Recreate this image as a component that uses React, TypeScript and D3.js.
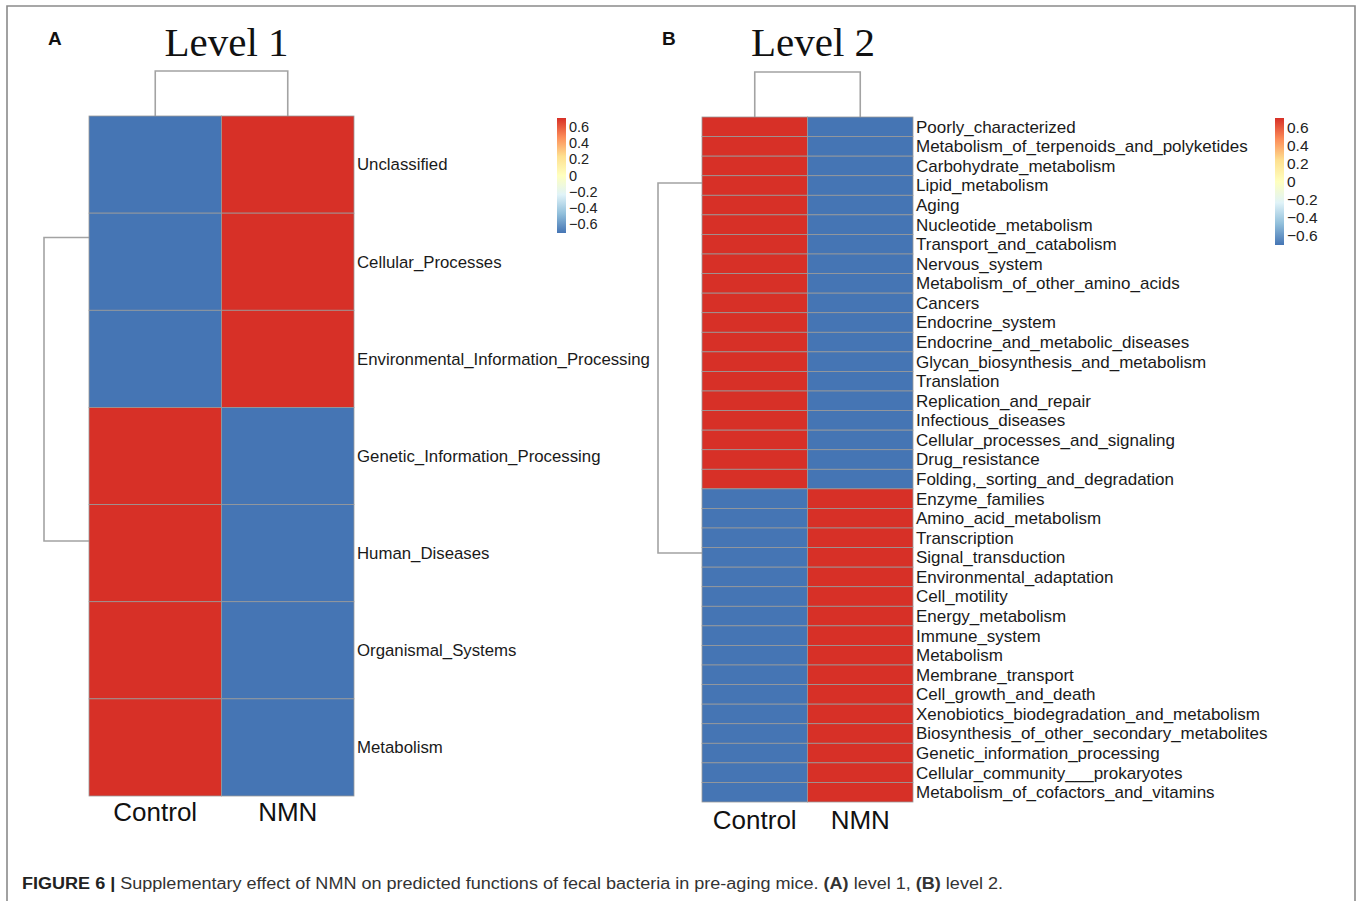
import React from 'react';
import * as d3 from 'd3';

// figure size
const W = 1358;
const H = 901;

// data: row-scaled abundance (z-score) per group
const groups = ['Control', 'NMN'];

const level1Rows = [
  'Unclassified',
  'Cellular_Processes',
  'Environmental_Information_Processing',
  'Genetic_Information_Processing',
  'Human_Diseases',
  'Organismal_Systems',
  'Metabolism',
];
const level1Control = [-0.707, -0.707, -0.707, 0.707, 0.707, 0.707, 0.707];
const level1NMN = [0.707, 0.707, 0.707, -0.707, -0.707, -0.707, -0.707];

const level2Rows = [
  'Poorly_characterized',
  'Metabolism_of_terpenoids_and_polyketides',
  'Carbohydrate_metabolism',
  'Lipid_metabolism',
  'Aging',
  'Nucleotide_metabolism',
  'Transport_and_catabolism',
  'Nervous_system',
  'Metabolism_of_other_amino_acids',
  'Cancers',
  'Endocrine_system',
  'Endocrine_and_metabolic_diseases',
  'Glycan_biosynthesis_and_metabolism',
  'Translation',
  'Replication_and_repair',
  'Infectious_diseases',
  'Cellular_processes_and_signaling',
  'Drug_resistance',
  'Folding,_sorting_and_degradation',
  'Enzyme_families',
  'Amino_acid_metabolism',
  'Transcription',
  'Signal_transduction',
  'Environmental_adaptation',
  'Cell_motility',
  'Energy_metabolism',
  'Immune_system',
  'Metabolism',
  'Membrane_transport',
  'Cell_growth_and_death',
  'Xenobiotics_biodegradation_and_metabolism',
  'Biosynthesis_of_other_secondary_metabolites',
  'Genetic_information_processing',
  'Cellular_community___prokaryotes',
  'Metabolism_of_cofactors_and_vitamins',
];
const level2Control = [
  0.707, 0.707, 0.707, 0.707, 0.707, 0.707, 0.707, 0.707, 0.707, 0.707,
  0.707, 0.707, 0.707, 0.707, 0.707, 0.707, 0.707, 0.707, 0.707,
  -0.707, -0.707, -0.707, -0.707, -0.707, -0.707, -0.707, -0.707,
  -0.707, -0.707, -0.707, -0.707, -0.707, -0.707, -0.707, -0.707,
];
const level2NMN = level2Control.map((v) => -v);

// row dendrogram: position of the two top clusters (row index units)
const level1RowClusters = [0.75, 3.875];
const level2RowClusters = [2.87, 21.78];

const legendTicks = [0.6, 0.4, 0.2, 0, -0.2, -0.4, -0.6];
const zLimit = 0.707;

// pheatmap default palette (rev RdYlBu 7)
const palette = ['#4575B4', '#91BFDB', '#E0F3F8', '#FFFFBF', '#FEE090', '#FC8D59', '#D73027'];
const color = d3
  .scaleLinear<string>()
  .domain(palette.map((_, i) => -zLimit + (2 * zLimit * i) / (palette.length - 1)))
  .range(palette)
  .interpolate(d3.interpolateRgb);

const sans = '"Liberation Sans", Arial, Helvetica, sans-serif';
const serif = '"Liberation Serif", "Times New Roman", serif';
const lineCol = '#a3a3a3';

function fmt(v: number) {
  if (v === 0) return '0';
  return (v < 0 ? '\u2212' : '') + Math.abs(v).toFixed(1);
}

type PanelProps = {
  id: string;
  letter: string;
  title: string;
  titleX: number;
  rows: string[];
  control: number[];
  nmn: number[];
  clusters: number[];
  box: { left: number; right: number; top: number; bottom: number };
  dendroX: number;
  colDendroTop: number;
  labelSize: number;
  groupBaseline: number;
  legend: { x: number; top: number; bottom: number; fontSize: number };
  letterX: number;
};

function Panel(p: PanelProps) {
  const { box } = p;
  const x = d3.scaleBand().domain(groups).range([box.left, box.right]);
  const y = d3.scaleBand().domain(p.rows).range([box.top, box.bottom]);
  const yIdx = d3.scaleLinear().domain([0, p.rows.length]).range([box.top, box.bottom]);
  const cols = [p.control, p.nmn];
  const legY = d3.scaleLinear().domain([-zLimit, zLimit]).range([p.legend.bottom, p.legend.top]);
  const gradId = `grad-${p.id}`;

  const c0 = yIdx(p.clusters[0] + 0.5);
  const c1 = yIdx(p.clusters[1] + 0.5);
  const gx0 = x(groups[0])! + x.bandwidth() / 2;
  const gx1 = x(groups[1])! + x.bandwidth() / 2;

  return (
    <g>
      <text x={p.letterX} y={45} fontFamily={sans} fontWeight="bold" fontSize={19} fill="#111">
        {p.letter}
      </text>
      <text x={p.titleX} y={56} fontFamily={serif} fontSize={41} textAnchor="middle" fill="#111">
        {p.title}
      </text>

      {/* column dendrogram */}
      <path
        d={`M${gx0},${box.top}V${p.colDendroTop}H${gx1}V${box.top}`}
        fill="none"
        stroke={lineCol}
        strokeWidth={1.6}
      />
      {/* row dendrogram */}
      <path
        d={`M${box.left},${c0}H${p.dendroX}V${c1}H${box.left}`}
        fill="none"
        stroke={lineCol}
        strokeWidth={1.6}
      />

      {/* cells */}
      {p.rows.map((r, i) =>
        groups.map((g, j) => (
          <rect
            key={r + g}
            x={x(g)}
            y={y(r)}
            width={x.bandwidth()}
            height={y.bandwidth()}
            fill={color(cols[j][i])}
            stroke="#999999"
            strokeWidth={0.8}
          />
        ))
      )}

      {/* row labels */}
      {p.rows.map((r) => (
        <text
          key={r}
          x={box.right + 3}
          y={y(r)! + y.bandwidth() / 2}
          dy="0.35em"
          fontFamily={sans}
          fontSize={p.labelSize}
          fill="#1a1a1a"
        >
          {r}
        </text>
      ))}

      {/* column labels */}
      {groups.map((g) => (
        <text
          key={g}
          x={x(g)! + x.bandwidth() / 2}
          y={p.groupBaseline}
          textAnchor="middle"
          fontFamily={sans}
          fontSize={26}
          fill="#111"
        >
          {g}
        </text>
      ))}

      {/* colour legend */}
      <defs>
        <linearGradient id={gradId} x1="0" y1="1" x2="0" y2="0">
          {palette.map((c, i) => (
            <stop key={i} offset={i / (palette.length - 1)} stopColor={c} />
          ))}
        </linearGradient>
      </defs>
      <rect
        x={p.legend.x}
        y={p.legend.top}
        width={9}
        height={p.legend.bottom - p.legend.top}
        fill={`url(#${gradId})`}
      />
      {legendTicks.map((t) => (
        <text
          key={t}
          x={p.legend.x + 12}
          y={legY(t)}
          dy="0.35em"
          fontFamily={sans}
          fontSize={p.legend.fontSize}
          fill="#222"
        >
          {fmt(t)}
        </text>
      ))}
    </g>
  );
}

export default function App() {
  return (
    <svg
      width={W}
      height={H}
      style={{ position: 'absolute', left: 0, top: 0, display: 'block', background: '#fff' }}
    >
      <rect x={0} y={0} width={W} height={H} fill="#fff" />
      <path d={`M7,${H + 5}V6H1355V${H + 5}`} fill="none" stroke="#8a8a8a" strokeWidth={1.6} />

      <Panel
        id="a"
        letter="A"
        title="Level 1"
        titleX={226.5}
        rows={level1Rows}
        control={level1Control}
        nmn={level1NMN}
        clusters={level1RowClusters}
        box={{ left: 89, right: 354, top: 116, bottom: 796 }}
        dendroX={44}
        colDendroTop={71}
        labelSize={16.8}
        groupBaseline={821}
        legend={{ x: 557, top: 118, bottom: 233, fontSize: 14.5 }}
        letterX={48}
      />
      <Panel
        id="b"
        letter="B"
        title="Level 2"
        titleX={813}
        rows={level2Rows}
        control={level2Control}
        nmn={level2NMN}
        clusters={level2RowClusters}
        box={{ left: 702, right: 913, top: 117, bottom: 802 }}
        dendroX={658}
        colDendroTop={72}
        labelSize={17}
        groupBaseline={829}
        legend={{ x: 1275, top: 118, bottom: 245, fontSize: 15.5 }}
        letterX={662}
      />

      <text
        x={22}
        y={889}
        fontFamily={sans}
        fontSize={16}
        fill="#333"
        textLength={981}
        lengthAdjust="spacingAndGlyphs"
      >
        <tspan fontWeight="bold" fill="#222">FIGURE 6 |</tspan>
        <tspan> Supplementary effect of NMN on predicted functions of fecal bacteria in pre-aging mice. </tspan>
        <tspan fontWeight="bold">(A)</tspan>
        <tspan> level 1, </tspan>
        <tspan fontWeight="bold">(B)</tspan>
        <tspan> level 2.</tspan>
      </text>
    </svg>
  );
}
